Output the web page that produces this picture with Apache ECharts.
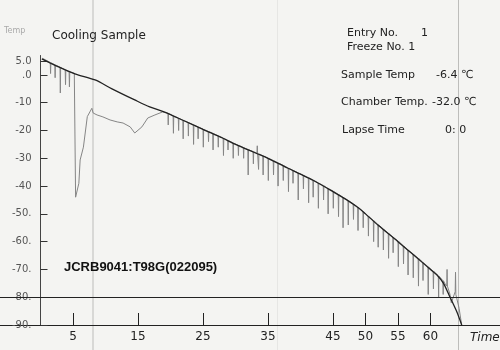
<!DOCTYPE html>
<html>
<head>
<meta charset="utf-8">
<script src="https://cdn.jsdelivr.net/npm/echarts@6/dist/echarts.min.js"></script>
<style>
html,body{margin:0;padding:0;background:#f4f4f2;}
#chart{width:500px;height:350px;}
</style>
</head>
<body>
<div id="chart"></div>
<script>
// ---- data ----
const xTickValues = [5, 15, 25, 35, 45, 50, 55, 60];
const yTickValues = [5, 0, -10, -20, -30, -40, -50, -60, -70, -80, -90];
const yTickLabels = ['5.0', '.0', '-10', '-20', '-30', '-40', '-50.', '-60.', '-70.', '-80.', '-90.'];
const refLineValue = [-80];

// chamber temperature (smooth line) [time, temp]
const chamberData = [
  [0.2, 5.8], [2.5, 3.2], [5.3, 0.4], [8.4, -1.8], [11, -5.0], [14.5, -9.0],
  [16.8, -11.5], [19, -13.3], [22, -16.4], [25, -19.6], [28, -22.7], [30, -25.0],
  [33, -28.0], [35, -30.0], [38, -33.5], [40, -35.7], [42, -38.0], [45, -42.0],
  [47, -44.8], [49, -48.0], [50, -50.0], [52, -54.2], [55, -60.0], [58, -66.0],
  [60, -70.0], [61, -72.0], [62, -75.0], [63, -80.0], [64, -85.0], [64.8, -90.0]
];

// sample temperature (with spikes) [time, temp]
const sampleData = [
  [0.3, 6.0], [1.5, 4.5], [1.55, 0.5], [1.6, 4.4], [2.2, 3.7], [2.25, -1.0], [2.3, 3.6],
  [3.0, 2.8], [3.05, -6.5], [3.1, 2.7], [3.8, 1.8], [3.85, -3.5], [3.9, 1.7],
  [4.4, 1.1], [4.45, -4.3], [4.5, 1.0], [5.2, 0.6], [5.3, 0.3], [5.4, -44.0],
  [5.9, -39.0], [6.1, -30.6], [6.6, -26.0], [7.2, -15.0], [7.9, -12.0], [8.1, -13.7],
  [8.7, -14.4], [9.6, -15.1], [10.7, -16.2], [11.8, -16.9], [12.7, -17.3], [13.8, -18.7],
  [14.5, -20.9], [15.6, -18.7], [16.5, -15.5], [17.6, -14.4], [18.8, -13.3],
  [19.6, -13.8], [19.65, -18], [19.7, -13.9],
  [20.4, -14.7], [20.45, -21], [20.5, -14.8],
  [21.2, -15.5], [21.25, -20], [21.3, -15.6],
  [21.9, -16.3], [21.95, -23], [22.0, -16.4],
  [22.7, -17.1], [22.75, -22], [22.8, -17.2],
  [23.5, -18.0], [23.55, -25], [23.6, -18.1],
  [24.2, -18.7], [24.25, -23], [24.3, -18.8],
  [25.0, -19.5], [25.05, -26], [25.1, -19.6],
  [25.8, -20.3], [25.85, -24], [25.9, -20.4],
  [26.5, -21.0], [26.55, -27], [26.6, -21.1],
  [27.3, -21.9], [27.35, -26], [27.4, -22.0],
  [28.1, -22.7], [28.15, -29], [28.2, -22.8],
  [28.8, -23.5], [28.85, -27], [28.9, -23.6],
  [29.6, -24.4], [29.65, -30], [29.7, -24.5],
  [30.4, -25.3], [30.45, -29], [30.5, -25.4],
  [31.2, -26.1], [31.25, -30], [31.3, -26.2],
  [31.9, -26.8], [31.95, -36], [32.0, -26.9],
  [32.7, -27.6], [32.75, -32], [32.8, -27.7],
  [33.3, -28.1], [33.35, -25.5], [33.4, -28.2],
  [33.5, -28.4], [33.55, -34], [33.6, -28.5],
  [34.2, -29.1], [34.25, -36], [34.3, -29.2],
  [35.0, -29.9], [35.05, -38], [35.1, -30.0],
  [35.8, -30.8], [35.85, -36], [35.9, -30.9],
  [36.5, -31.6], [36.55, -40], [36.6, -31.7],
  [37.3, -32.5], [37.35, -38], [37.4, -32.6],
  [38.1, -33.5], [38.15, -42], [38.2, -33.6],
  [38.8, -34.3], [38.85, -39], [38.9, -34.4],
  [39.6, -35.2], [39.65, -45], [39.7, -35.3],
  [40.4, -36.1], [40.45, -41], [40.5, -36.2],
  [41.2, -37.0], [41.25, -46], [41.3, -37.1],
  [41.9, -37.8], [41.95, -44], [42.0, -37.9],
  [42.7, -38.8], [42.75, -48], [42.8, -38.9],
  [43.5, -39.8], [43.55, -45], [43.6, -39.9],
  [44.2, -40.8], [44.25, -50], [44.3, -40.9],
  [45.0, -41.8], [45.05, -48], [45.1, -41.9],
  [45.8, -43.0], [45.85, -51], [45.9, -43.1],
  [46.5, -44.0], [46.55, -55], [46.6, -44.1],
  [47.3, -45.2], [47.35, -54], [47.4, -45.3],
  [48.1, -46.4], [48.15, -52], [48.2, -46.5],
  [48.8, -47.6], [48.85, -56], [48.9, -47.7],
  [49.6, -49.2], [49.65, -55], [49.7, -49.3],
  [50.4, -50.8], [50.45, -58], [50.5, -50.9],
  [51.2, -52.4], [51.25, -60], [51.3, -52.5],
  [51.9, -53.8], [51.95, -62], [52.0, -53.9],
  [52.7, -55.4], [52.75, -63], [52.8, -55.5],
  [53.5, -57.0], [53.55, -66], [53.6, -57.1],
  [54.2, -58.4], [54.25, -64], [54.3, -58.5],
  [55.0, -59.8], [55.05, -69], [55.1, -59.9],
  [55.8, -61.5], [55.85, -68], [55.9, -61.6],
  [56.5, -63.0], [56.55, -72], [56.6, -63.1],
  [57.3, -64.5], [57.35, -73], [57.4, -64.6],
  [58.1, -66.0], [58.15, -76], [58.2, -66.1],
  [58.8, -67.4], [58.85, -74], [58.9, -67.5],
  [59.6, -69.0], [59.65, -79], [59.7, -69.1],
  [60.4, -70.6], [60.45, -77], [60.5, -70.7],
  [61.2, -72.3], [61.25, -80], [61.3, -72.4],
  [61.9, -74.0], [61.95, -79], [62.0, -74.1],
  [62.2, -75.0], [62.5, -76.0], [62.55, -70.0], [62.6, -76.0], [63.0, -79.0],
  [63.2, -82.0], [63.5, -80.0], [63.8, -78.0], [63.85, -71.0], [63.9, -79.0],
  [64.1, -81.0], [64.4, -84.0], [64.8, -90.0]
];

// ---- chart ----
const chart = echarts.init(document.getElementById('chart'), null, {renderer: 'canvas'});
const handFont = '"DejaVu Sans", sans-serif';
const pxPerMin = 6.5;
const axisX0 = 40.5;

chart.setOption({
  backgroundColor: '#f4f4f2',
  animation: false,
  grid: {left: 0, right: 0, top: 55.5, bottom: 25, containLabel: false, outerBoundsMode: 'none'},
  xAxis: {
    type: 'value',
    min: -axisX0 / pxPerMin,
    max: (500 - axisX0) / pxPerMin,
    axisLine: {onZero: false, lineStyle: {color: '#222', width: 1}},
    axisTick: {customValues: xTickValues, inside: true, length: 12, lineStyle: {color: '#222'}},
    axisLabel: {customValues: xTickValues, color: '#222', fontSize: 12, fontFamily: handFont, margin: 6},
    splitLine: {show: false}
  },
  yAxis: {
    type: 'value',
    min: -90,
    max: 7,
    position: 'left',
    offset: -axisX0,
    axisLine: {onZero: false, lineStyle: {color: '#444', width: 1}},
    axisTick: {customValues: yTickValues, inside: true, length: 7, lineStyle: {color: '#333'}},
    axisLabel: {
      customValues: yTickValues,
      color: '#555', fontSize: 10, fontFamily: handFont, margin: 9,
      formatter: function (v) {
        const i = yTickValues.indexOf(v);
        return i >= 0 ? yTickLabels[i] : '';
      }
    },
    splitLine: {show: false}
  },
  series: [
    {
      name: 'Chamber Temp', type: 'line', data: chamberData, showSymbol: false,
      smooth: 0.3, lineStyle: {color: '#222', width: 1.3}, z: 3,
      markLine: {
        silent: true, symbol: 'none', label: {show: false},
        lineStyle: {color: '#222', width: 1, type: 'solid'},
        data: refLineValue.map(v => ({yAxis: v}))
      }
    },
    {
      name: 'Sample Temp', type: 'line', data: sampleData, showSymbol: false,
      lineStyle: {color: '#858585', width: 1}, z: 2
    }
  ],
  graphic: [
    {type: 'rect', shape: {x: 92, y: 0, width: 2, height: 350}, style: {fill: '#d8d8d6'}, silent: true, z: -1},
    {type: 'rect', shape: {x: 277, y: 0, width: 1, height: 350}, style: {fill: '#e6e6e4'}, silent: true, z: -1},
    {type: 'rect', shape: {x: 458, y: 0, width: 1, height: 350}, style: {fill: '#bdbdbb'}, silent: true, z: -1},
    {type: 'text', left: 4, top: 27, style: {text: 'Temp', font: '8px ' + handFont, fill: '#aaa'}},
    {type: 'text', left: 52, top: 30, style: {text: 'Cooling Sample', font: '12px ' + handFont, fill: '#222'}},
    {type: 'text', left: 347, top: 28, style: {text: 'Entry No.', font: '11px ' + handFont, fill: '#222'}},
    {type: 'text', left: 421, top: 28, style: {text: '1', font: '11px ' + handFont, fill: '#222'}},
    {type: 'text', left: 347, top: 42, style: {text: 'Freeze No. 1', font: '11px ' + handFont, fill: '#222'}},
    {type: 'text', left: 341, top: 70, style: {text: 'Sample Temp', font: '11px ' + handFont, fill: '#222'}},
    {type: 'text', left: 436, top: 70, style: {text: '-6.4 \u2103', font: '11px ' + handFont, fill: '#222'}},
    {type: 'text', left: 341, top: 97, style: {text: 'Chamber Temp.', font: '11px ' + handFont, fill: '#222'}},
    {type: 'text', left: 432, top: 97, style: {text: '-32.0 \u2103', font: '11px ' + handFont, fill: '#222'}},
    {type: 'text', left: 342, top: 125, style: {text: 'Lapse Time', font: '11px ' + handFont, fill: '#222'}},
    {type: 'text', left: 445, top: 125, style: {text: '0: 0', font: '11px ' + handFont, fill: '#222'}},
    {type: 'text', left: 64, top: 261, style: {text: 'JCRB9041:T98G(022095)', font: 'bold 13px "Liberation Sans", Arial, sans-serif', fill: '#111'}},
    {type: 'text', left: 470, top: 332, style: {text: 'Time', font: 'italic 12px ' + handFont, fill: '#222'}}
  ]
});
</script>
</body>
</html>
